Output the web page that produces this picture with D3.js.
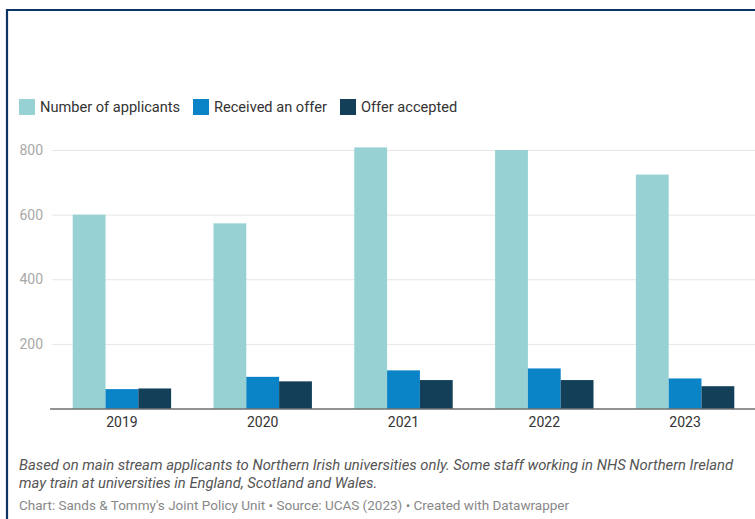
<!DOCTYPE html>
<html>
<head>
<meta charset="utf-8">
<script src="https://cdn.jsdelivr.net/npm/d3@7"></script>
<style>
  html, body { margin: 0; padding: 0; background: #fff; }
  svg { display: block; font-family: Roboto, "Noto Sans", sans-serif; }
</style>
</head>
<body>
<svg id="chart" width="755" height="519"></svg>
<script>
// Nursing/midwifery applicants to Northern Irish universities
const years = ["2019", "2020", "2021", "2022", "2023"];
const seriesNames = ["Number of applicants", "Received an offer", "Offer accepted"];
const applicants = [600, 573, 808, 800, 724];
const received = [60, 98, 118, 124, 93];
const accepted = [62, 84, 88, 88, 69];
const seriesColors = ["#97d1d4", "#0a84c6", "#133f58"];
const yTicks = [0, 200, 400, 600, 800];
const notes = [
  "Based on main stream applicants to Northern Irish universities only. Some staff working in NHS Northern Ireland",
  "may train at universities in England, Scotland and Wales."
];
const credit = "Chart: Sands & Tommy's Joint Policy Unit \u2022 Source: UCAS (2023) \u2022 Created with Datawrapper";

const seriesValues = [applicants, received, accepted];
const rows = years.map((yr, i) => ({ year: yr, values: seriesValues.map(s => s[i]) }));

const svg = d3.select("#chart");
const W = 755, H = 519;

// frame
svg.append("rect").attr("x", 0).attr("y", 0).attr("width", W).attr("height", H).attr("fill", "#fff");
svg.append("path")
  .attr("d", `M7,${H} V10 H${W}`)
  .attr("fill", "none")
  .attr("stroke", "#0c3566")
  .attr("stroke-width", 2.2);

// legend
const legend = svg.append("g").attr("transform", "translate(19,99)");
const legendX = [0, 174, 321];
seriesNames.forEach((name, i) => {
  const g = legend.append("g").attr("transform", `translate(${legendX[i]},0)`);
  g.append("rect").attr("width", 16).attr("height", 16).attr("fill", seriesColors[i]);
  g.append("text").attr("x", 21).attr("y", 8).attr("dy", "0.35em")
    .attr("font-size", 14.6).attr("fill", "#333").text(name);
});

// scales
const plotLeft = 52, plotRight = 755, plotTop = 150, plotBottom = 408.5;
const x0 = d3.scaleBand().domain(years).range([plotLeft, plotRight])
  .paddingInner(0.301).paddingOuter(0.147);
const x1 = d3.scaleBand().domain(d3.range(seriesNames.length)).range([0, x0.bandwidth()]);
const y = d3.scaleLinear().domain([0, 800]).range([plotBottom, plotTop]);

// gridlines and y labels
const yAxis = d3.axisLeft(y).tickValues(yTicks).tickSize(-(plotRight - plotLeft)).tickFormat(d => d === 0 ? "" : d);
const gy = svg.append("g").attr("transform", `translate(${plotLeft},0)`).call(yAxis);
gy.select(".domain").remove();
gy.selectAll(".tick line").attr("stroke", "#e6e6e6").attr("stroke-width", 1);
gy.selectAll(".tick text")
  .attr("x", -9)
  .attr("font-family", "Roboto, sans-serif")
  .attr("font-size", 14)
  .attr("fill", "#a8a8a8");

// bars
const groups = svg.append("g").selectAll("g").data(rows).join("g")
  .attr("transform", d => `translate(${x0(d.year)},0)`);
groups.selectAll("rect").data(d => d.values.map((v, i) => ({ v, i }))).join("rect")
  .attr("x", d => x1(d.i))
  .attr("width", x1.bandwidth())
  .attr("y", d => y(d.v))
  .attr("height", d => y(0) - y(d.v))
  .attr("fill", d => seriesColors[d.i]);

// x axis
const xAxis = d3.axisBottom(x0).tickSize(0).tickPadding(9);
const gx = svg.append("g").attr("transform", `translate(0,${plotBottom})`).call(xAxis);
gx.select(".domain").attr("d", `M${plotLeft - 2},0.5H${plotRight}`).attr("stroke", "#333").attr("stroke-width", 1.2);
gx.selectAll(".tick text")
  .attr("font-family", "Roboto, sans-serif")
  .attr("font-size", 14)
  .attr("fill", "#333");

// notes and credits
svg.append("g").selectAll("text").data(notes).join("text")
  .attr("x", 19)
  .attr("y", (d, i) => 470 + i * 18)
  .attr("font-size", 14.8)
  .attr("font-style", "italic")
  .attr("fill", "#555")
  .text(d => d);
svg.append("text")
  .attr("x", 19).attr("y", 510)
  .attr("font-size", 13.5)
  .attr("fill", "#888")
  .text(credit);
</script>
</body>
</html>
